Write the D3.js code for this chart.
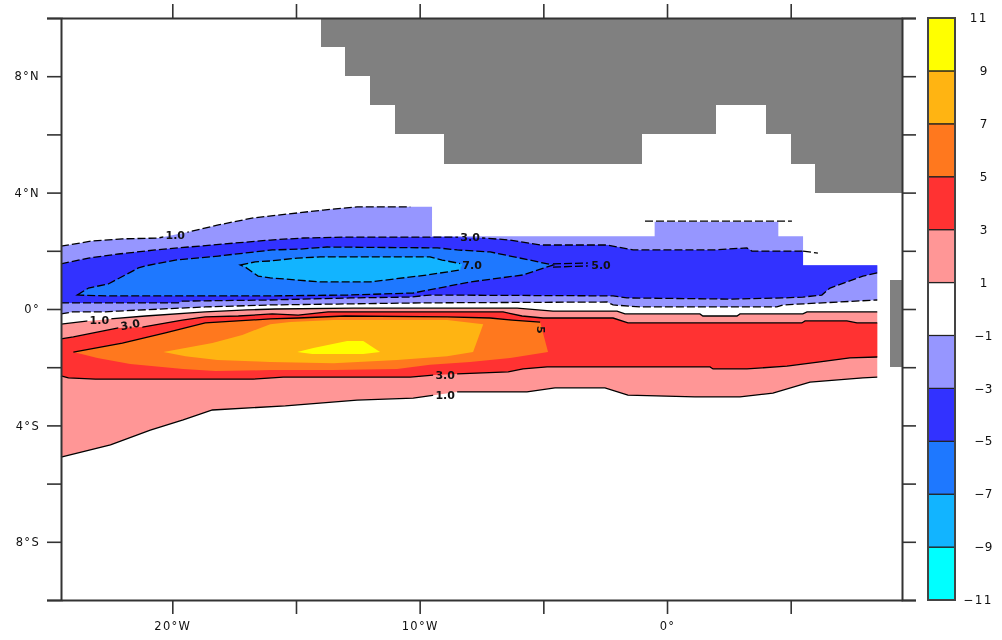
<!DOCTYPE html>
<html><head><meta charset="utf-8">
<script src="https://cdn.jsdelivr.net/npm/d3@7"></script>
<style>
html,body{margin:0;padding:0;background:#fff}
svg{display:block;filter:blur(0.4px)}
text{font-family:"DejaVu Sans",sans-serif;fill:#111}
.axis path{stroke:#333;stroke-width:2;fill:none}
.axis line{stroke:#333;stroke-width:1.6}
.axis text{font-size:11.5px;letter-spacing:1.3px}
.cl{font-size:11px;font-weight:600;text-anchor:middle;dominant-baseline:central}
</style></head><body>
<svg id="c" width="1002" height="640"></svg>
<script>
// Level boundaries and their fill colours (low to high)
const levels=[-11,-9,-7,-5,-3,-1,1,3,5,7,9,11];
const levelColors=["#00ffff","#12b4ff","#1e78ff","#3232ff","#9696ff","#ffffff","#ff9696","#ff3232","#ff781e","#ffb412","#ffff00"];
const lonTicks=[-20,-15,-10,-5,0,5];
const lonLabels=["20°W","","10°W","","0°",""];
const latTicks=[-10,-8,-6,-4,-2,0,2,4,6,8,10];
const latLabels=["","8°S","","4°S","","0°","","4°N","","8°N",""];

// Land mask: [lat south, lat north, lon west, lon east]
const landCells=[[9,10,-14,9.5],[8,9,-13,9.5],[7,8,-12,9.5],[6,7,-11,2],[6,7,4,9.5],[5,6,-9,-1],[5,6,5,9.5],[4,5,6,9.5],[-2,1,9,9.5]];

// Contours as [lon,lat]
const pos1Top=[[-24.5,-0.52],[-23.39,-0.41],[-22.51,-0.34],[-21.09,-0.24],[-18.67,-0.10],[-16.97,-0.03],[-15.84,0],[-12.69,0.03],[-6.06,0.03],[-4.61,-0.07],[-2.02,-0.07],[-1.70,-0.17],[1.33,-0.17],[1.45,-0.24],[2.83,-0.24],[2.95,-0.17],[5.49,-0.17],[5.66,-0.10],[8.5,-0.10]];
const pos1Bottom=[[-24.5,-5.09],[-22.5,-4.67],[-20.89,-4.16],[-19.56,-3.81],[-18.38,-3.47],[-15.43,-3.33],[-12.53,-3.13],[-10.26,-3.06],[-8.48,-2.85],[-5.66,-2.85],[-4.53,-2.71],[-2.51,-2.71],[-1.58,-2.96],[1.13,-3.02],[2.95,-3.02],[4.28,-2.89],[5.78,-2.51],[7.92,-2.37],[8.5,-2.34]];
const pos3Top=[[-24.5,-1.03],[-24.0,-0.96],[-22.18,-0.65],[-21.21,-0.62],[-19.6,-0.38],[-18.67,-0.27],[-17.33,-0.24],[-15.96,-0.17],[-14.91,-0.21],[-13.7,-0.10],[-6.63,-0.10],[-5.86,-0.24],[-5.01,-0.31],[-2.18,-0.31],[-1.58,-0.48],[5.45,-0.48],[5.58,-0.41],[7.27,-0.41],[7.68,-0.48],[8.5,-0.48]];
const pos3Bottom=[[-24.5,-2.30],[-24.2,-2.37],[-23.11,-2.41],[-16.73,-2.41],[-15.52,-2.34],[-10.38,-2.34],[-9.45,-2.27],[-8.48,-2.23],[-6.42,-2.16],[-5.82,-2.06],[-4.85,-1.99],[1.74,-1.99],[1.86,-2.06],[3.23,-2.06],[4.85,-1.96],[6.18,-1.82],[7.39,-1.68],[8.5,-1.65]];
const pos5Top=[[-24.0,-1.48],[-22.02,-1.17],[-20.28,-0.82],[-18.67,-0.48],[-16.04,-0.34],[-14.91,-0.31],[-13.01,-0.24],[-8.89,-0.27],[-7.15,-0.31],[-6.26,-0.38],[-5.13,-0.45]];
const pos5Rest=[[-4.81,-1.48],[-6.34,-1.68],[-7.96,-1.82],[-9.58,-1.92],[-10.91,-2.06],[-13.49,-2.10],[-16.04,-2.10],[-18.26,-2.13],[-19.56,-2.06],[-21.7,-1.89],[-23.03,-1.68]];
const pos7=[[-20.36,-1.48],[-18.38,-1.17],[-17.17,-0.89],[-16.04,-0.52],[-15.23,-0.45],[-13.49,-0.38],[-8.89,-0.38],[-7.43,-0.52],[-7.84,-1.48],[-8.89,-1.62],[-10.91,-1.75],[-13.49,-1.86],[-16.04,-1.82],[-18.18,-1.75],[-19.47,-1.62]];
const pos9=[[-14.95,-1.48],[-14.3,-1.34],[-12.93,-1.10],[-12.28,-1.10],[-11.6,-1.48],[-12.28,-1.55],[-14.34,-1.55]];

const neg1Line=[[-24.5,2.16],[-23.23,2.34],[-22.02,2.41],[-20.57,2.44],[-19.35,2.65],[-18.14,2.89],[-16.73,3.13],[-13.9,3.40],[-12.53,3.51],[-10.38,3.51]];
const neg1Edge=[[-9.5,3.51],[-9.5,2.5],[-0.5,2.5],[-0.5,3.0],[4.5,3.0],[4.5,2.5],[5.5,2.5],[5.5,1.5],[8.5,1.5]];
const neg1Bump=[[-0.89,3.02],[5.05,3.02]];
const neg1Bottom=[[-24.5,-0.17],[-24.04,-0.10],[-22.71,-0.10],[-22.18,-0.07],[-18.67,0.07],[-16.04,0.14],[-13.33,0.17],[-9.98,0.21],[-2.42,0.24],[-2.18,0.14],[-1.09,0.07],[4.44,0.07],[4.69,0.14],[8.5,0.31]];
const neg3Top=[[-24.5,1.55],[-23.39,1.75],[-22.18,1.89],[-20.69,2.03],[-19.35,2.13],[-17.98,2.23],[-16.04,2.37],[-14.71,2.44],[-13.09,2.47],[-8.65,2.47],[-7.43,2.44],[-6.34,2.37],[-5.13,2.20],[-2.42,2.20],[-1.37,2.03],[1.86,2.03],[3.23,2.10],[3.43,1.99],[5.5,1.99]];
const neg3Tail=[[5.5,1.99],[6.1,1.92]];
const neg3Edge=[[5.5,1.5],[8.5,1.5]];
const neg3Bottom=[[-24.5,0.21],[-19.76,0.21],[-19.6,0.27],[-16.04,0.31],[-12.81,0.38],[-10.38,0.41],[-9.58,0.48],[-2.18,0.45],[-1.62,0.38],[2.63,0.34],[4.69,0.38],[5.49,0.41],[6.26,0.48],[6.59,0.72],[7.92,1.13],[8.5,1.24]];
const neg5=[[-23.84,0.48],[-23.39,0.72],[-22.59,0.86],[-21.37,1.41],[-21.09,1.48],[-19.88,1.68],[-18.14,1.82],[-15.96,2.03],[-14.83,2.06],[-13.74,2.13],[-9.29,2.10],[-8.48,2.03],[-7.15,1.96],[-5.54,1.68],[-4.61,1.51],[-5.82,1.17],[-7.96,0.93],[-10.26,0.55],[-12.93,0.48],[-16.04,0.45],[-22.59,0.45]];
const neg5TailA=[[-4.61,1.55],[-3.2,1.58]];
const neg5TailB=[[-4.61,1.44],[-3.2,1.48]];
const neg7=[[-17.25,1.51],[-16.65,1.62],[-16.04,1.65],[-14.95,1.75],[-14.02,1.79],[-9.58,1.79],[-9.09,1.68],[-8.28,1.55],[-8.36,1.34],[-9.7,1.17],[-12.0,0.93],[-14.02,0.93],[-16.04,1.07],[-16.53,1.13],[-17.05,1.44]];

// Contour labels: lon, lat, text, angle
const contourLabels=[[-22.95,-0.41,"1.0",0],[-21.7,-0.55,"3.0",-10],[-19.88,2.51,"1.0",0],[-7.96,2.44,"3.0",0],[-7.88,1.48,"7.0",0],[-2.67,1.51,"5.0",0],[-5.13,-0.72,"5",90],[-8.97,-2.27,"3.0",0],[-8.97,-2.96,"1.0",0]];

const left=61,right=902,top_=18,bottom=600;
const x=d3.scaleLinear().domain([-24.5,9.5]).range([left,right]);
const y=d3.scaleLinear().domain([-10,10]).range([bottom,top_]);
const cy=d3.scaleLinear().domain([-11,11]).range([bottom,top_]);
const color=i=>levelColors[i];
const svg=d3.select("#c");
const line=d3.line().x(d=>x(d[0])).y(d=>y(d[1]));
const closed=pts=>line(pts)+"Z";
const rev=a=>a.slice().reverse();

const fills=[
 [[...neg1Line,...neg1Edge,...rev(neg1Bottom)],4],
 [[...neg3Top,...neg3Edge,...rev(neg3Bottom)],3],
 [neg5,2],[neg7,1],
 [[...pos1Top,...rev(pos1Bottom)],6],
 [[...pos3Top,...rev(pos3Bottom)],7],
 [[...pos5Top,...pos5Rest],8],
 [pos7,9],[pos9,10]
];
svg.append("g").selectAll("path").data(fills).join("path")
 .attr("d",d=>closed(d[0])).attr("fill",d=>color(d[1]));

svg.append("g").selectAll("rect").data(landCells).join("rect")
 .attr("x",d=>x(d[2])).attr("width",d=>x(d[3])-x(d[2]))
 .attr("y",d=>y(d[1])).attr("height",d=>y(d[0])-y(d[1]))
 .attr("fill","#808080").attr("shape-rendering","crispEdges");

// mask so contour lines break around their labels
const defs=svg.append("defs");
const mask=defs.append("mask").attr("id","m").attr("maskUnits","userSpaceOnUse")
 .attr("x",0).attr("y",0).attr("width",1002).attr("height",640);
mask.append("rect").attr("width",1002).attr("height",640).attr("fill","#fff");
mask.selectAll("rect.g").data(contourLabels).join("rect").attr("class","g")
 .attr("x",d=>x(d[0])-(d[2].length>1?12:5)).attr("y",d=>y(d[1])-6)
 .attr("width",d=>d[2].length>1?24:10).attr("height",12).attr("fill","#000");

const solid=[pos1Top,pos1Bottom,pos3Top,pos3Bottom,pos5Top];
const dashed=[neg1Line,neg1Bump,neg1Bottom,neg3Top,neg3Tail,neg3Bottom,neg5,neg5TailA,neg5TailB,neg7];
const lg=svg.append("g").attr("mask","url(#m)").attr("fill","none").attr("stroke","#000").attr("stroke-width",1.3);
lg.selectAll("path.s").data(solid).join("path").attr("class","s").attr("d",line);
lg.selectAll("path.d").data(dashed).join("path").attr("class","d")
 .attr("d",(d,i)=>(d===neg5||d===neg7)?closed(d):line(d)).attr("stroke-dasharray","8 3");

svg.append("g").selectAll("text").data(contourLabels).join("text").attr("class","cl")
 .attr("transform",d=>`translate(${x(d[0])},${y(d[1])}) rotate(${d[3]})`).text(d=>d[2]);

// axes
const fmt=(labs,ticks)=>d=>labs[ticks.indexOf(d)];
const ax=(g,a)=>svg.append("g").attr("class","axis").attr("transform",g).call(a);
ax(`translate(${left},0)`,d3.axisLeft(y).tickValues(latTicks).tickFormat(fmt(latLabels,latTicks)).tickSize(14).tickPadding(7));
ax(`translate(${right},0)`,d3.axisRight(y).tickValues(latTicks).tickFormat("").tickSize(14));
ax(`translate(0,${top_})`,d3.axisTop(x).tickValues(lonTicks).tickFormat("").tickSize(14).tickSizeOuter(0));
ax(`translate(0,${bottom})`,d3.axisBottom(x).tickValues(lonTicks).tickFormat(fmt(lonLabels,lonTicks)).tickSize(14).tickSizeOuter(0).tickPadding(8));

// colour bar
const barX=928,barW=27;
const bar=svg.append("g");
bar.selectAll("rect").data(levelColors).join("rect")
 .attr("x",barX).attr("width",barW)
 .attr("y",(d,i)=>cy(levels[i+1])).attr("height",(d,i)=>cy(levels[i])-cy(levels[i+1]))
 .attr("fill",d=>d).attr("stroke","#222").attr("stroke-width",1.2);
bar.append("rect").attr("x",barX).attr("y",top_).attr("width",barW).attr("height",bottom-top_)
 .attr("fill","none").attr("stroke","#444").attr("stroke-width",2);
bar.selectAll("text").data(levels).join("text")
 .attr("x",d=>d<0?993:988).attr("y",d=>cy(d)).attr("dy","0.35em").attr("text-anchor","end")
 .attr("font-size",12).attr("letter-spacing",d=>Math.abs(d)>9?"1.5px":"0.5px")
 .text(d=>(d<0?"−":"")+Math.abs(d));
</script>
</body></html>
